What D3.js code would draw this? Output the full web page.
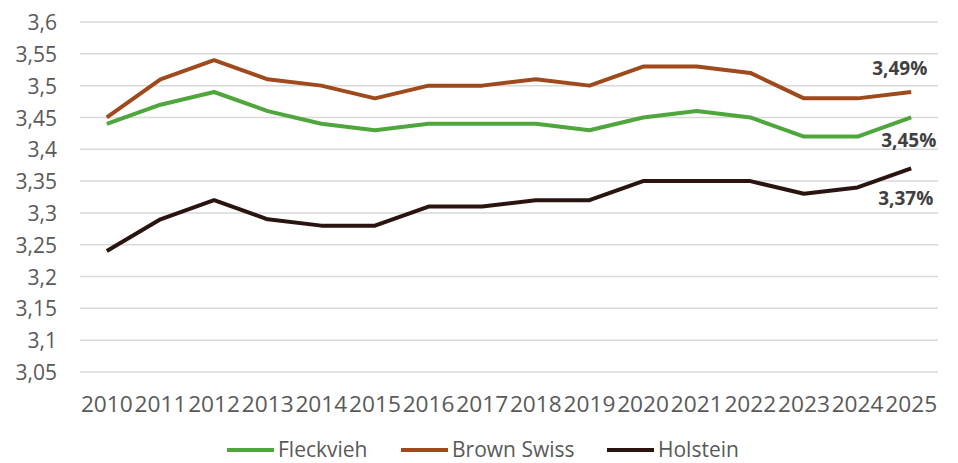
<!DOCTYPE html>
<html>
<head>
<meta charset="utf-8">
<script src="https://cdn.jsdelivr.net/npm/d3@7"></script>
<style>
  html, body { margin: 0; padding: 0; background: #fff; }
  svg { display: block; }
</style>
</head>
<body>
<svg id="chart" width="958" height="463"></svg>
<script>
const years = ["2010","2011","2012","2013","2014","2015","2016","2017","2018","2019","2020","2021","2022","2023","2024","2025"];
const fleckvieh  = [3.44,3.47,3.49,3.46,3.44,3.43,3.44,3.44,3.44,3.43,3.45,3.46,3.45,3.42,3.42,3.45];
const brownSwiss = [3.45,3.51,3.54,3.51,3.50,3.48,3.50,3.50,3.51,3.50,3.53,3.53,3.52,3.48,3.48,3.49];
const holstein   = [3.24,3.29,3.32,3.29,3.28,3.28,3.31,3.31,3.32,3.32,3.35,3.35,3.35,3.33,3.34,3.37];
const yTicks = [3.05,3.1,3.15,3.2,3.25,3.3,3.35,3.4,3.45,3.5,3.55,3.6];
const seriesNames = ["Fleckvieh","Brown Swiss","Holstein"];
const seriesColors = ["#4ea63c","#9f4a1d","#2a1410"];
const endLabels = ["3,45%","3,49%","3,37%"];

const series = seriesNames.map((n,i) => ({name:n, color:seriesColors[i], values:[fleckvieh,brownSwiss,holstein][i], label:endLabels[i]}));

const svg = d3.select("#chart");
const plotLeft = 80, plotRight = 938, plotTop = 22, plotBottom = 372;

const x = d3.scaleBand().domain(years).range([plotLeft, plotRight]);
const y = d3.scaleLinear().domain([3.05, 3.6]).range([plotBottom, plotTop]);
const fmt = v => d3.format(".2~f")(v).replace(".", ",");

// gridlines
svg.append("g").selectAll("line").data(yTicks).join("line")
  .attr("x1", plotLeft).attr("x2", plotRight)
  .attr("y1", d => y(d)).attr("y2", d => y(d))
  .attr("stroke", "#d9d9d9").attr("stroke-width", 1.5);

// y axis labels
const yAxis = d3.axisLeft(y).tickValues(yTicks).tickFormat(fmt).tickSize(0).tickPadding(0);
const gy = svg.append("g").attr("transform", `translate(57,0)`).call(yAxis);
gy.select(".domain").remove();
gy.selectAll("text")
  .attr("x", 0).attr("dy", "0.36em")
  .style("font-family", "'Open Sans', sans-serif").style("font-size", "21px")
  .attr("fill", "#595959");

// x axis labels
const xAxis = d3.axisBottom(x).tickSize(0).tickPadding(0);
const gx = svg.append("g").attr("transform", `translate(0,${plotBottom})`).call(xAxis);
gx.select(".domain").remove();
gx.selectAll("text")
  .attr("y", 40).attr("dy", 0)
  .attr("transform", "scale(1.08,1)")
  .style("font-family", "'Open Sans', sans-serif").style("font-size", "21px")
  .attr("fill", "#595959");

// lines
const line = d3.line()
  .x((d,i) => x(years[i]) + x.bandwidth()/2)
  .y(d => y(d));

svg.append("g").selectAll("path").data(series).join("path")
  .attr("d", d => line(d.values))
  .attr("fill", "none")
  .attr("stroke", d => d.color)
  .attr("stroke-width", 4)
  .attr("stroke-linejoin", "round")
  .attr("stroke-linecap", "butt");

// end labels
const lastX = x(years[years.length-1]) + x.bandwidth()/2;
const offsets = [30, -17, 37];
const dxs = [-30, -39, -33];
svg.append("g").selectAll("text").data(series).join("text")
  .attr("x", (d,i) => lastX + dxs[i])
  .attr("y", (d,i) => y(d.values[d.values.length-1]) + offsets[i])
  .text(d => d.label)
  .style("font-family", "'Open Sans', sans-serif").style("font-size", "19px")
  .style("font-weight", "bold")
  .attr("fill", "#404040");

// legend
const legendX = [227, 401, 607];
const lg = svg.append("g").selectAll("g").data(series).join("g")
  .attr("transform", (d,i) => `translate(${legendX[i]},450)`);
lg.append("line").attr("x1", 0).attr("x2", 47).attr("y1", 0).attr("y2", 0)
  .attr("stroke", d => d.color).attr("stroke-width", 4);
lg.append("text").attr("x", 51).attr("y", 7)
  .text(d => d.name)
  .style("font-family", "'Open Sans', sans-serif").style("font-size", "21px")
  .attr("fill", "#595959");
</script>
</body>
</html>
